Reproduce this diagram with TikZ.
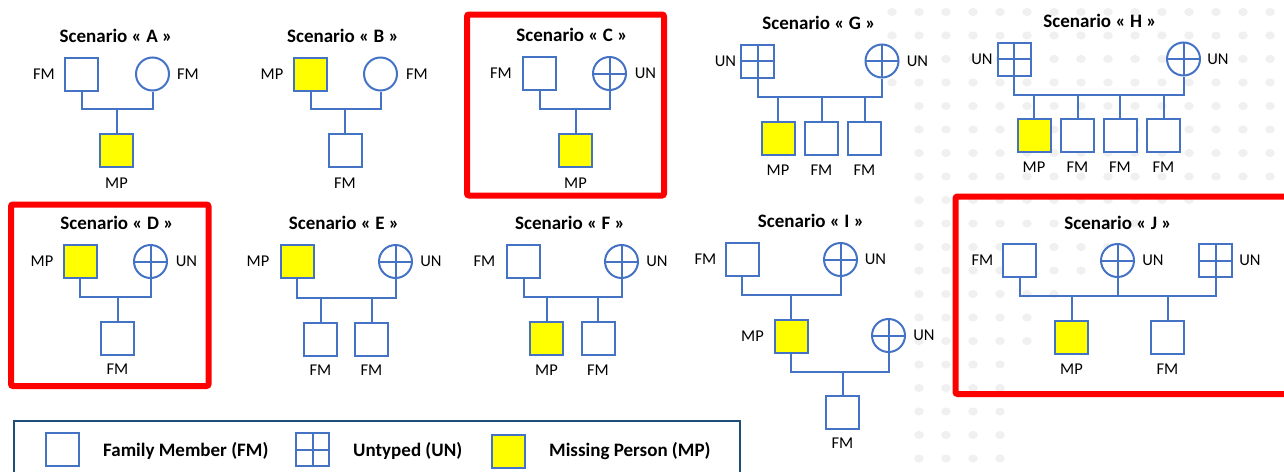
\documentclass[tikz,border=0pt]{standalone}
\usepackage{fontspec}
\setmainfont{Carlito}
\definecolor{pblue}{HTML}{4472C4}
\definecolor{pyellow}{HTML}{FFFF00}
\definecolor{navy}{HTML}{1F4E79}
\definecolor{dotgray}{HTML}{F0F0F0}
\definecolor{boxred}{HTML}{FF0000}
\newcommand{\lblfont}{\fontsize{16.5}{16.5}\selectfont}
\newcommand{\ttlfont}{\fontsize{19}{19}\selectfont\bfseries}
\tikzset{
  ln/.style={draw=pblue, line width=2pt},
  sq/.style={rectangle, draw=pblue, line width=2pt, fill=white, minimum size=33pt, inner sep=0pt},
  mpsq/.style={sq, fill=pyellow},
  circ/.style={circle, draw=pblue, line width=2pt, fill=white, minimum size=33pt, inner sep=0pt},
  crossed/.style={path picture={\draw[pblue, line width=2pt]
      (path picture bounding box.north) -- (path picture bounding box.south)
      (path picture bounding box.west) -- (path picture bounding box.east);}},
  ucirc/.style={circ, crossed},
  usq/.style={sq, crossed},
  lab/.style={font=\lblfont, inner sep=0pt},
  ttl/.style={font=\ttlfont, inner sep=0pt},
  legtext/.style={font=\ttlfont, inner sep=0pt, anchor=base west},
  redbox/.style={draw=boxred, line width=6pt, rounded corners=2pt},
}
\begin{document}
\begin{tikzpicture}[x=1pt,y=-1pt]
\path[use as bounding box] (0,0) rectangle (1284,471);
\clip (0,0) rectangle (1284,471);

% faint dotted globe in the background
\foreach \r in {0,...,20}{
  \foreach \c in {0,...,15}{
    \pgfmathsetmacro\dx{892+\c*27}
    \pgfmathsetmacro\dy{12+\r*23.5}
    \pgfmathsetmacro\lim{\dy>90 ? 915 : 888}
    \pgfmathtruncatemacro\keep{and(((\dx-1284)/100)^2+((\dy-471)/100)^2>7.84, \dx>\lim) ? 1 : 0}
    \ifnum\keep=1 \fill[dotgray] (\dx,\dy) ellipse[x radius=4.8, y radius=4.1]; \fi
  }
}

% highlighted scenarios
\draw[redbox] (467,14.5) rectangle (664,195.5);
\draw[redbox] (11,204.5) rectangle (208.5,386);
\draw[redbox] (955.5,196.5) rectangle (1300,394);

% Scenario A
\node[ttl] (tA) at (116,36) {Scenario « A »};
\node[sq] (A1) at (81.5,74) {};
\node[lab] (A1l) at (44,74) {FM};
\node[circ] (A2) at (152.5,74) {};
\node[lab] (A2l) at (188,74) {FM};
\node[mpsq] (A3) at (116.5,150) {};
\node[lab] (A3l) at (116.5,183) {MP};
\coordinate (Aj) at (116.5,109);
\draw[ln] (A1.south) |- (Aj) -| (A2.south);
\draw[ln] (Aj) -- (A3.north);

% Scenario B
\node[ttl] (tB) at (343,36) {Scenario « B »};
\node[mpsq] (B1) at (310.5,74) {};
\node[lab] (B1l) at (272,74) {MP};
\node[circ] (B2) at (380.5,74) {};
\node[lab] (B2l) at (417,74) {FM};
\node[sq] (B3) at (345,150) {};
\node[lab] (B3l) at (345,183) {FM};
\coordinate (Bj) at (345,109);
\draw[ln] (B1.south) |- (Bj) -| (B2.south);
\draw[ln] (Bj) -- (B3.north);

% Scenario C
\node[ttl] (tC) at (572,35) {Scenario « C »};
\node[sq] (C1) at (539.5,73.5) {};
\node[lab] (C1l) at (501,73.5) {FM};
\node[ucirc] (C2) at (609.5,73.5) {};
\node[lab] (C2l) at (645.5,73.5) {UN};
\node[mpsq] (C3) at (575.5,150) {};
\node[lab] (C3l) at (575.5,183) {MP};
\coordinate (Cj) at (575.5,109);
\draw[ln] (C1.south) |- (Cj) -| (C2.south);
\draw[ln] (Cj) -- (C3.north);

% Scenario G
\node[ttl] (tG) at (819,23) {Scenario « G »};
\node[usq] (G1) at (757.5,61) {};
\node[lab] (G1l) at (725.5,61) {UN};
\node[ucirc] (G2) at (882,61) {};
\node[lab] (G2l) at (917.5,61) {UN};
\node[mpsq] (G3) at (778,138) {};
\node[sq] (G4) at (821.5,138) {};
\node[sq] (G5) at (864.5,138) {};
\node[lab] (G3l) at (778,170) {MP};
\node[lab] (G4l) at (821.5,170) {FM};
\node[lab] (G5l) at (864.5,170) {FM};
\coordinate (Gb) at (820,97);
\draw[ln] (G1.south) |- (Gb) -| (G2.south);
\foreach \k in {G3,G4,G5} \draw[ln] (\k.north) -- (\k.north |- Gb);

% Scenario H
\node[ttl] (tH) at (1100,21) {Scenario « H »};
\node[usq] (H1) at (1014,59) {};
\node[lab] (H1l) at (982,59) {UN};
\node[ucirc] (H2) at (1183.5,59) {};
\node[lab] (H2l) at (1218,59) {UN};
\node[mpsq] (H3) at (1034,135.5) {};
\node[sq] (H4) at (1077.5,135.5) {};
\node[sq] (H5) at (1120,135.5) {};
\node[sq] (H6) at (1163.5,135.5) {};
\node[lab] (H3l) at (1034,167) {MP};
\node[lab] (H4l) at (1077.5,167) {FM};
\node[lab] (H5l) at (1120,167) {FM};
\node[lab] (H6l) at (1163.5,167) {FM};
\coordinate (Hb) at (1100,95);
\draw[ln] (H1.south) |- (Hb) -| (H2.south);
\foreach \k in {H3,H4,H5,H6} \draw[ln] (\k.north) -- (\k.north |- Hb);

% Scenario D
\node[ttl] (tD) at (117,223) {Scenario « D »};
\node[mpsq] (D1) at (80,261.5) {};
\node[lab] (D1l) at (42,261.5) {MP};
\node[ucirc] (D2) at (150.5,261.5) {};
\node[lab] (D2l) at (186.5,261.5) {UN};
\node[sq] (D3) at (117.5,338) {};
\node[lab] (D3l) at (117.5,369) {FM};
\coordinate (Dj) at (117.5,297);
\draw[ln] (D1.south) |- (Dj) -| (D2.south);
\draw[ln] (Dj) -- (D3.north);

% Scenario E
\node[ttl] (tE) at (344,223) {Scenario « E »};
\node[mpsq] (E1) at (297,261.5) {};
\node[lab] (E1l) at (258,261.5) {MP};
\node[ucirc] (E2) at (395.5,261.5) {};
\node[lab] (E2l) at (431,261.5) {UN};
\node[sq] (E3) at (320.5,339) {};
\node[sq] (E4) at (371.5,339) {};
\node[lab] (E3l) at (320.5,370) {FM};
\node[lab] (E4l) at (371.5,370) {FM};
\coordinate (Eb) at (346,298);
\draw[ln] (E1.south) |- (Eb) -| (E2.south);
\foreach \k in {E3,E4} \draw[ln] (\k.north) -- (\k.north |- Eb);

% Scenario F
\node[ttl] (tF) at (570,223) {Scenario « F »};
\node[sq] (F1) at (523.5,261.5) {};
\node[lab] (F1l) at (484.5,261.5) {FM};
\node[ucirc] (F2) at (621.5,261.5) {};
\node[lab] (F2l) at (657,261.5) {UN};
\node[mpsq] (F3) at (546.5,338.5) {};
\node[sq] (F4) at (598,338.5) {};
\node[lab] (F3l) at (546.5,370) {MP};
\node[lab] (F4l) at (598,370) {FM};
\coordinate (Fb) at (572,297);
\draw[ln] (F1.south) |- (Fb) -| (F2.south);
\foreach \k in {F3,F4} \draw[ln] (\k.north) -- (\k.north |- Fb);

% Scenario I
\node[ttl] (tI) at (811,221) {Scenario « I »};
\node[sq] (I1) at (742,259.5) {};
\node[lab] (I1l) at (705.5,259.5) {FM};
\node[ucirc] (I2) at (840.5,259.5) {};
\node[lab] (I2l) at (875.5,259.5) {UN};
\node[mpsq] (I3) at (791,336) {};
\node[lab] (I3l) at (752.5,336) {MP};
\node[ucirc] (I4) at (888.5,335.5) {};
\node[lab] (I4l) at (924,335.5) {UN};
\node[sq] (I5) at (842.5,412.5) {};
\node[lab] (I5l) at (842.5,443) {FM};
\coordinate (Ij) at (791,295);
\coordinate (Ij2) at (842.5,372);
\draw[ln] (I1.south) |- (Ij) -| (I2.south);
\draw[ln] (Ij) -- (I3.north);
\draw[ln] (I3.south) |- (Ij2) -| (I4.south);
\draw[ln] (Ij2) -- (I5.north);

% Scenario J
\node[ttl] (tJ) at (1118,223) {Scenario « J »};
\node[sq] (J1) at (1019.5,260.5) {};
\node[lab] (J1l) at (982.5,260.5) {FM};
\node[ucirc] (J2) at (1117.5,260.5) {};
\node[lab] (J2l) at (1153,260.5) {UN};
\node[usq] (J3) at (1215.5,260.5) {};
\node[lab] (J3l) at (1250,260.5) {UN};
\node[mpsq] (J4) at (1071.5,337.5) {};
\node[sq] (J5) at (1167.5,337.5) {};
\node[lab] (J4l) at (1071.5,369) {MP};
\node[lab] (J5l) at (1167.5,369) {FM};
\coordinate (Jb) at (1117.5,296);
\draw[ln] (J1.south) |- (Jb) -| (J3.south);
\draw[ln] (J2.south) -- (Jb);
\foreach \k in {J4,J5} \draw[ln] (\k.north) -- (\k.north |- Jb);

% legend
\draw[draw=navy, line width=2.5pt] (14,421) rectangle (740,500);
\node[sq] (L1) at (62,449.5) {};
\node[legtext] (L1t) at (103,456) {Family Member (FM)};
\node[usq] (L2) at (312.5,449.5) {};
\node[legtext] (L2t) at (353,456) {Untyped (UN)};
\node[mpsq] (L3) at (508,451) {};
\node[legtext] (L3t) at (549,456) {Missing Person (MP)};
\end{tikzpicture}
\end{document}
